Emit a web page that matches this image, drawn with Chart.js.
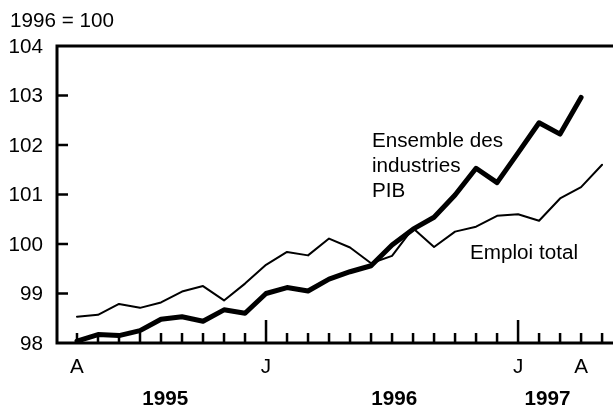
<!DOCTYPE html>
<html>
<head>
<meta charset="utf-8">
<script src="https://cdn.jsdelivr.net/npm/chart.js@4/dist/chart.umd.min.js"></script>
<style>
html,body{margin:0;padding:0;background:#fff;}
canvas{display:block;}
</style>
</head>
<body>
<canvas id="c" width="613" height="406"></canvas>
<script>
// Months, April 1995 .. May 1997
const months = ['1995-04','1995-05','1995-06','1995-07','1995-08','1995-09','1995-10','1995-11','1995-12',
  '1996-01','1996-02','1996-03','1996-04','1996-05','1996-06','1996-07','1996-08','1996-09','1996-10','1996-11','1996-12',
  '1997-01','1997-02','1997-03','1997-04','1997-05'];
// Ensemble des industries PIB (1996 = 100)
const pib = [98.04, 98.17, 98.15, 98.25, 98.48, 98.53, 98.44, 98.67, 98.60,
  99.00, 99.12, 99.05, 99.29, 99.44, 99.56, 99.98, 100.30, 100.54, 100.99, 101.53, 101.24,
  101.84, 102.45, 102.22, 102.96, null];
// Emploi total (1996 = 100)
const emploi = [98.53, 98.57, 98.79, 98.71, 98.82, 99.04, 99.15, 98.86, 99.20,
  99.58, 99.84, 99.77, 100.11, 99.93, 99.61, 99.76, 100.32, 99.94, 100.25, 100.35, 100.57,
  100.60, 100.47, 100.92, 101.15, 101.60];
// Tick labels
const yTicks = [98, 99, 100, 101, 102, 103, 104];
const xTickLabels = {'1995-04':'A', '1996-01':'J', '1997-01':'J', '1997-04':'A'};
const majorMonths = ['1996-01', '1997-01'];
const years = ['1995', '1996', '1997'];
const yearCenters = [4.2, 15.1, 22.4]; // in month-index units
const unitLabel = '1996 = 100';
const seriesLabels = {pib: ['Ensemble des', 'industries', 'PIB'], emploi: ['Emploi total']};

const toPts = arr => arr.map((v, i) => ({x: i, y: v}));
const FONT = '"Liberation Sans", Arial, sans-serif';
const SX = 1.06; // slight horizontal stretch of the reference lettering

function txt(ctx, t, x, y) {
  ctx.save();
  ctx.translate(x, y);
  ctx.scale(SX, 1);
  ctx.fillText(t, 0, 0);
  ctx.restore();
}

const axesPlugin = {
  id: 'axesPlugin',
  afterDatasetsDraw(chart) {
    const ctx = chart.ctx;
    const xs = chart.scales.x, ys = chart.scales.y;
    const a = chart.chartArea;
    const bottom = ys.getPixelForValue(98), top = ys.getPixelForValue(104);
    ctx.save();
    ctx.strokeStyle = '#000';
    ctx.lineCap = 'butt';
    // frame: top, left, bottom
    ctx.lineWidth = 3;
    ctx.beginPath();
    ctx.moveTo(a.left - 1.5, top); ctx.lineTo(a.right, top);
    ctx.moveTo(a.left, top - 1.5); ctx.lineTo(a.left, bottom + 1.5);
    ctx.moveTo(a.left - 1.5, bottom); ctx.lineTo(a.right, bottom);
    ctx.stroke();
    // y ticks
    ctx.lineWidth = 2.5;
    ctx.beginPath();
    yTicks.forEach(v => {
      if (v === 98 || v === 104) return;
      const y = ys.getPixelForValue(v);
      ctx.moveTo(a.left, y); ctx.lineTo(a.left + 11, y);
    });
    // x ticks
    months.forEach((m, i) => {
      const x = xs.getPixelForValue(i);
      const len = majorMonths.includes(m) ? 23 : 10;
      ctx.moveTo(x, bottom); ctx.lineTo(x, bottom - len);
    });
    ctx.stroke();
    // y labels
    ctx.fillStyle = '#000';
    ctx.font = '19.5px ' + FONT;
    ctx.textAlign = 'right';
    ctx.textBaseline = 'middle';
    yTicks.forEach(v => txt(ctx, String(v), 43, ys.getPixelForValue(v) + 1.5));
    // x labels
    ctx.textAlign = 'center';
    ctx.textBaseline = 'alphabetic';
    months.forEach((m, i) => {
      if (xTickLabels[m]) txt(ctx, xTickLabels[m], xs.getPixelForValue(i), 373);
    });
    // unit label
    ctx.textAlign = 'left';
    txt(ctx, unitLabel, 10, 27);
    // series labels
    seriesLabels.pib.forEach((t, k) => txt(ctx, t, 372, 147 + k * 25));
    seriesLabels.emploi.forEach((t, k) => txt(ctx, t, 470, 259 + k * 25));
    // years
    ctx.font = 'bold 19.5px ' + FONT;
    ctx.textAlign = 'center';
    years.forEach((y, k) => txt(ctx, y, xs.getPixelForValue(yearCenters[k]), 405));
    ctx.restore();
  }
};

new Chart(document.getElementById('c'), {
  type: 'line',
  data: {
    datasets: [
      {label: 'Ensemble des industries PIB', data: toPts(pib), borderColor: '#000', borderWidth: 5,
       pointRadius: 0, tension: 0, borderJoinStyle: 'round', borderCapStyle: 'round', spanGaps: false},
      {label: 'Emploi total', data: toPts(emploi), borderColor: '#000', borderWidth: 2,
       pointRadius: 0, tension: 0, borderJoinStyle: 'round', borderCapStyle: 'round'}
    ]
  },
  options: {
    responsive: false,
    animation: false,
    events: [],
    clip: false,
    layout: {padding: {left: 57, top: 46, right: 0, bottom: 63}},
    plugins: {legend: {display: false}, tooltip: {enabled: false}},
    scales: {
      x: {type: 'linear', display: false, min: -0.952, max: 25.52},
      y: {type: 'linear', display: false, min: 98, max: 104}
    }
  },
  plugins: [axesPlugin]
});
</script>
</body>
</html>
